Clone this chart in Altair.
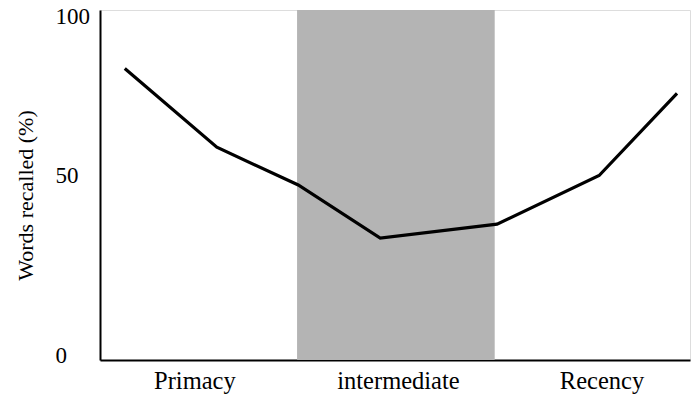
import altair as alt
import pandas as pd

# serial-position data (x in arbitrary list-position units 0-100, y in % recalled)
positions = [4.2, 19.8, 33.6, 47.5, 67.3, 84.6, 97.8]
recalled = [83.3, 60.8, 50.0, 34.8, 38.8, 52.7, 76.2]

band_start = [33.4]
band_end = [66.9]

x_tick_values = [16, 50.5, 85]
x_tick_labels = ["Primacy", "intermediate", "Recency"]
y_tick_values = [0, 50, 100]
y_label_offsets = [2, -3, 13]

line_df = pd.DataFrame({"pos": positions, "recalled": recalled})
band_df = pd.DataFrame({"x0": band_start, "x1": band_end, "y0": [0], "y1": [100]})

label_expr = " : ".join(
    f"datum.value == {v} ? '{l}'" for v, l in zip(x_tick_values, x_tick_labels)
) + " : ''"

offset_cond = {
    "condition": [
        {"test": f"datum.value == {v}", "value": o}
        for v, o in zip(y_tick_values, y_label_offsets)
    ],
    "value": 0,
}

FONT = "Liberation Serif"

x_scale = alt.Scale(domain=[0, 100], nice=False, zero=False)
y_scale = alt.Scale(domain=[0, 100], nice=False)

x_axis = alt.Axis(
    values=x_tick_values,
    labelExpr=label_expr,
    title=None,
    grid=False,
    ticks=False,
    tickSize=0,
    labelPadding=28,
    labelBaseline="alphabetic",
    labelFont=FONT,
    labelFontSize=24.5,
    labelColor="black",
    domainColor="black",
    domainWidth=2,
)

y_axis = alt.Axis(
    values=y_tick_values,
    title="Words recalled (%)",
    grid=False,
    ticks=False,
    tickSize=0,
    labelPadding=45,
    labelAlign="left",
    labelBaseline="alphabetic",
    labelOffset=offset_cond,
    labelFont=FONT,
    labelFontSize=23,
    labelColor="black",
    domainColor="black",
    domainWidth=2,
    titleFont=FONT,
    titleFontSize=22,
    titleFontWeight="normal",
    titleColor="black",
    titleX=-75,
    titleY=185,
    titleAlign="center",
    titleBaseline="middle",
    titleAngle=270,
)

band = alt.Chart(band_df).mark_rect(color="#b4b4b4").encode(
    x=alt.X("x0:Q", scale=x_scale, axis=x_axis),
    x2="x1:Q",
    y=alt.Y("y0:Q", scale=y_scale, axis=y_axis),
    y2="y1:Q",
)

line = alt.Chart(line_df).mark_line(color="black", strokeWidth=3.2).encode(
    x=alt.X("pos:Q", scale=x_scale),
    y=alt.Y("recalled:Q", scale=y_scale),
)

chart = (
    alt.layer(band, line)
    .properties(
        width=590,
        height=350,
        autosize=alt.AutoSizeParams(type="none"),
        padding={"left": 100, "top": 10, "right": 10, "bottom": 46},
    )
    .configure_view(stroke=None)
    .configure(background="white")
)

chart.save("out.html", embed_options={"renderer": "svg", "actions": False})
